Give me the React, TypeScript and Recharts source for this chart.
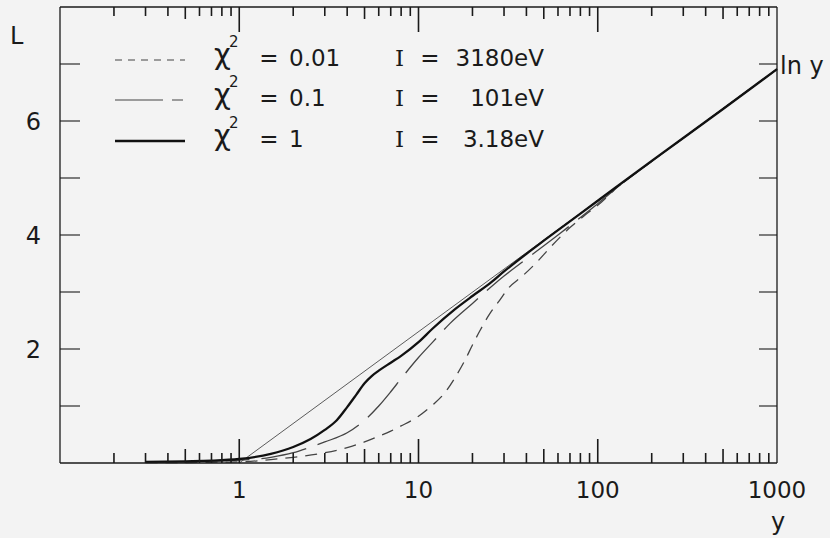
import React from 'react';
import { LineChart, Line, XAxis, YAxis, Legend } from 'recharts';

// ---- axis ticks ----
const yDecades = [1, 10, 100, 1000];
const yMinor = [0.2, 0.3, 0.4, 0.5, 0.6, 0.7, 0.8, 0.9, 2, 3, 4, 5, 6, 7, 8, 9, 20, 30, 40, 50, 60, 70, 80, 90, 200, 300, 400, 500, 600, 700, 800, 900];
const xTickLabels = ['1', '10', '100', '1000'];
const lTicks = [1, 2, 3, 4, 5, 6, 7];
const lTickLabels = [2, 4, 6];
const lFrame = [0, 8];

// ---- series: chi^2 = 0.01 (short dashes) ----
const ySmall = [0.3, 1, 1.5, 2, 3, 4, 5, 6, 7, 8, 10, 12, 14, 16, 18, 20, 22, 25, 28, 32, 38, 45, 55, 70, 85, 100, 130, 200, 1000];
const LSmall = [0.005, 0.02, 0.06, 0.1, 0.18, 0.27, 0.37, 0.47, 0.56, 0.65, 0.82, 1.02, 1.23, 1.5, 1.78, 2.07, 2.32, 2.62, 2.83, 3.08, 3.28, 3.5, 3.8, 4.13, 4.35, 4.52, 4.85, 5.29, 6.91];

// ---- series: chi^2 = 0.1 (long dashes) ----
const yMid = [0.3, 1, 1.5, 2, 2.5, 3, 4, 5, 6, 7, 8, 10, 12, 15, 20, 30, 40, 60, 100, 150, 200, 1000];
const LMid = [0.01, 0.05, 0.1, 0.18, 0.28, 0.37, 0.53, 0.75, 1.0, 1.25, 1.48, 1.85, 2.12, 2.45, 2.8, 3.28, 3.58, 4.0, 4.55, 5.0, 5.29, 6.91];

// ---- series: chi^2 = 1 (solid) ----
const yLarge = [0.3, 0.5, 0.7, 1, 1.5, 2, 2.5, 3, 3.5, 4, 4.5, 5, 5.5, 6, 7, 8, 10, 12, 16, 20, 25, 30, 40, 50, 100, 200, 500, 1000];
const LLarge = [0.02, 0.03, 0.04, 0.07, 0.16, 0.28, 0.42, 0.58, 0.75, 0.98, 1.2, 1.4, 1.53, 1.62, 1.76, 1.88, 2.12, 2.36, 2.7, 2.93, 3.15, 3.36, 3.67, 3.9, 4.6, 5.3, 6.21, 6.91];

// ---- asymptote ln y ----
const yLn = [1, 1000];
const LLn = [0, 6.91];

// ---- legend text ----
const legendChi = ['0.01', '0.1', '1'];
const legendI = ['3180eV', '101eV', '3.18eV'];

const toRows = (xs: number[], ls: number[]) => xs.map((y, i) => ({ y, L: ls[i] }));
const dataSmall = toRows(ySmall, LSmall);
const dataMid = toRows(yMid, LMid);
const dataLarge = toRows(yLarge, LLarge);
const dataLn = toRows(yLn, LLn);

const frameXTicks = [...yMinor, ...yDecades].filter((v) => v < 1000).sort((a, b) => a - b);
const bottomTickRows = frameXTicks.map((y) => ({ y, L: lFrame[0] }));
const topTickRows = frameXTicks.map((y) => ({ y, L: lFrame[1] }));

const FONT = '"DejaVu Sans", sans-serif';
const INK = '#1a1a1a';

const isDecade = (v: number) => yDecades.includes(v);
const isFive = (v: number) => [0.5, 5, 50, 500].includes(v);

// label-only tick for the bottom axis
const BottomLabel = (props: any) => {
  const { x, y, payload } = props;
  const idx = yDecades.indexOf(payload.value);
  if (idx < 0) return <g />;
  return (
    <text x={x} y={y + 35} textAnchor="middle" fontSize={23} fontFamily={FONT} fill={INK}>
      {xTickLabels[idx]}
    </text>
  );
};

// inward frame tick marks, placed by the chart scales as "dots" of hidden lines
const BottomTickDot = (p: any) => {
  const { cx, cy, payload } = p;
  if (cx == null || cy == null) return <g />;
  const v = payload.y;
  const len = isDecade(v) ? 24 : isFive(v) ? 14 : 10;
  return <line x1={cx} x2={cx} y1={cy} y2={cy - len} stroke={INK} strokeWidth={1.6} />;
};
const TopTickDot = (p: any) => {
  const { cx, cy, payload } = p;
  if (cx == null || cy == null) return <g />;
  const v = payload.y;
  const len = isDecade(v) ? 25 : isFive(v) ? 12 : 9;
  return <line x1={cx} x2={cx} y1={cy} y2={cy + len} stroke={INK} strokeWidth={1.6} />;
};

const LeftTick = (props: any) => {
  const { x, y, payload } = props;
  const v = payload.value;
  return (
    <g>
      <line x1={x} x2={x + 20} y1={y} y2={y} stroke={INK} strokeWidth={1.1} />
      {lTickLabels.includes(v) && (
        <text x={x - 19} y={y + 9} textAnchor="end" fontSize={24} fontFamily={FONT} fill={INK}>
          {v}
        </text>
      )}
    </g>
  );
};

const RightTick = (props: any) => {
  const { x, y } = props;
  return <line x1={x} x2={x - 18} y1={y} y2={y} stroke={INK} strokeWidth={1.1} />;
};

const legendStyles = [
  { dash: '7 6', width: 1.2, color: '#444' },
  { dash: '48 9 11 200', width: 1.2, color: '#444' },
  { dash: undefined, width: 2.3, color: '#111' },
];
const legendBaselines = [41, 81, 122];

const LegendBlock = () => (
  <svg width={460} height={135} style={{ overflow: 'visible', display: 'block' }}>
    {legendChi.map((c, i) => {
      const b = legendBaselines[i];
      const s = legendStyles[i];
      return (
        <g key={i} fontFamily={FONT} fill={INK}>
          <line x1={15} x2={85} y1={b - 6} y2={b - 6} stroke={s.color} strokeWidth={s.width} strokeDasharray={s.dash} />
          <text x={114} y={b - 2} fontSize={29}>χ</text>
          <text x={129} y={b - 19} fontSize={15}>2</text>
          <text x={169} y={b} fontSize={23} textAnchor="middle">=</text>
          <text x={189} y={b} fontSize={23}>{c}</text>
          <text x={295} y={b} fontSize={23} fontFamily='"DejaVu Serif", serif'>I</text>
          <text x={330} y={b} fontSize={23} textAnchor="middle">=</text>
          <text x={444} y={b} fontSize={23} textAnchor="end">{legendI[i]}</text>
        </g>
      );
    })}
  </svg>
);

const LnLabel = (props: any) => {
  const { x, y, index } = props;
  if (index !== 1) return null;
  return (
    <text x={x + 3} y={y + 5} fontSize={24} fontFamily={FONT} fill={INK}>
      ln y
    </text>
  );
};

export default function App() {
  return (
    <div style={{ position: 'absolute', left: 0, top: 0, width: 830, height: 538, background: '#f3f3f3' }}>
      <LineChart width={830} height={538} margin={{ top: 6, right: 52, left: 0, bottom: 0 }}>
        <XAxis
          xAxisId="b"
          dataKey="y"
          type="number"
          scale="log"
          domain={[0.1, 1000]}
          ticks={yDecades}
          interval={0}
          height={75}
          tickSize={0}
          tickMargin={0}
          tickLine={false}
          tick={<BottomLabel />}
          axisLine={{ stroke: INK, strokeWidth: 1.3 }}
          label={{
            content: (p: any) => (
              <text
                x={p.viewBox.x + p.viewBox.width + 1}
                y={p.viewBox.y + 67}
                textAnchor="middle"
                fontSize={24}
                fontFamily={FONT}
                fill={INK}
              >
                y
              </text>
            ),
          }}
        />
        <XAxis
          xAxisId="t"
          orientation="top"
          dataKey="y"
          type="number"
          scale="log"
          domain={[0.1, 1000]}
          ticks={yDecades}
          interval={0}
          height={1}
          tickSize={0}
          tickMargin={0}
          tickLine={false}
          tick={false}
          axisLine={{ stroke: INK, strokeWidth: 1.3 }}
        />
        <YAxis
          yAxisId="l"
          type="number"
          domain={lFrame}
          ticks={lTicks}
          interval={0}
          width={60}
          tickSize={0}
          tickMargin={0}
          tickLine={false}
          tick={<LeftTick />}
          axisLine={{ stroke: INK, strokeWidth: 1.3 }}
          label={{
            content: (p: any) => (
              <text x={p.viewBox.x + 10} y={p.viewBox.y + 37} fontSize={24} fontFamily={FONT} fill={INK}>
                L
              </text>
            ),
          }}
        />
        <YAxis
          yAxisId="r"
          orientation="right"
          type="number"
          domain={lFrame}
          ticks={lTicks}
          interval={0}
          width={1}
          tickSize={0}
          tickMargin={0}
          tickLine={false}
          tick={<RightTick />}
          axisLine={{ stroke: INK, strokeWidth: 1.3 }}
        />
        <Legend
          layout="vertical"
          align="center"
          verticalAlign="middle"
          content={() => <LegendBlock />}
          wrapperStyle={{ left: 100, top: 25, width: 460, height: 135 }}
        />
        <Line
          xAxisId="t"
          yAxisId="r"
          data={dataLn}
          dataKey="L"
          type="linear"
          stroke="none"
          strokeWidth={0}
          dot={false}
          activeDot={false}
          legendType="none"
          isAnimationActive={false}
        />
        {/* frame tick marks on bottom and top edges */}
        <Line
          xAxisId="b"
          yAxisId="l"
          data={bottomTickRows}
          dataKey="L"
          type="linear"
          stroke="none"
          strokeWidth={0}
          dot={<BottomTickDot />}
          activeDot={false}
          legendType="none"
          isAnimationActive={false}
        />
        <Line
          xAxisId="b"
          yAxisId="l"
          data={topTickRows}
          dataKey="L"
          type="linear"
          stroke="none"
          strokeWidth={0}
          dot={<TopTickDot />}
          activeDot={false}
          legendType="none"
          isAnimationActive={false}
        />
        <Line
          xAxisId="b"
          yAxisId="l"
          data={dataLn}
          dataKey="L"
          type="linear"
          stroke="#4a4a4a"
          strokeWidth={0.9}
          dot={false}
          isAnimationActive={false}
          label={<LnLabel />}
        />
        <Line
          xAxisId="b"
          yAxisId="l"
          data={dataSmall}
          dataKey="L"
          type="monotone"
          stroke="#444"
          strokeWidth={1.3}
          strokeDasharray="12 8"
          dot={false}
          isAnimationActive={false}
        />
        <Line
          xAxisId="b"
          yAxisId="l"
          data={dataMid}
          dataKey="L"
          type="monotone"
          stroke="#444"
          strokeWidth={1.3}
          strokeDasharray="46 12"
          dot={false}
          isAnimationActive={false}
        />
        <Line
          xAxisId="b"
          yAxisId="l"
          data={dataLarge}
          dataKey="L"
          type="monotone"
          stroke="#111"
          strokeWidth={2.3}
          dot={false}
          isAnimationActive={false}
        />
      </LineChart>
    </div>
  );
}
